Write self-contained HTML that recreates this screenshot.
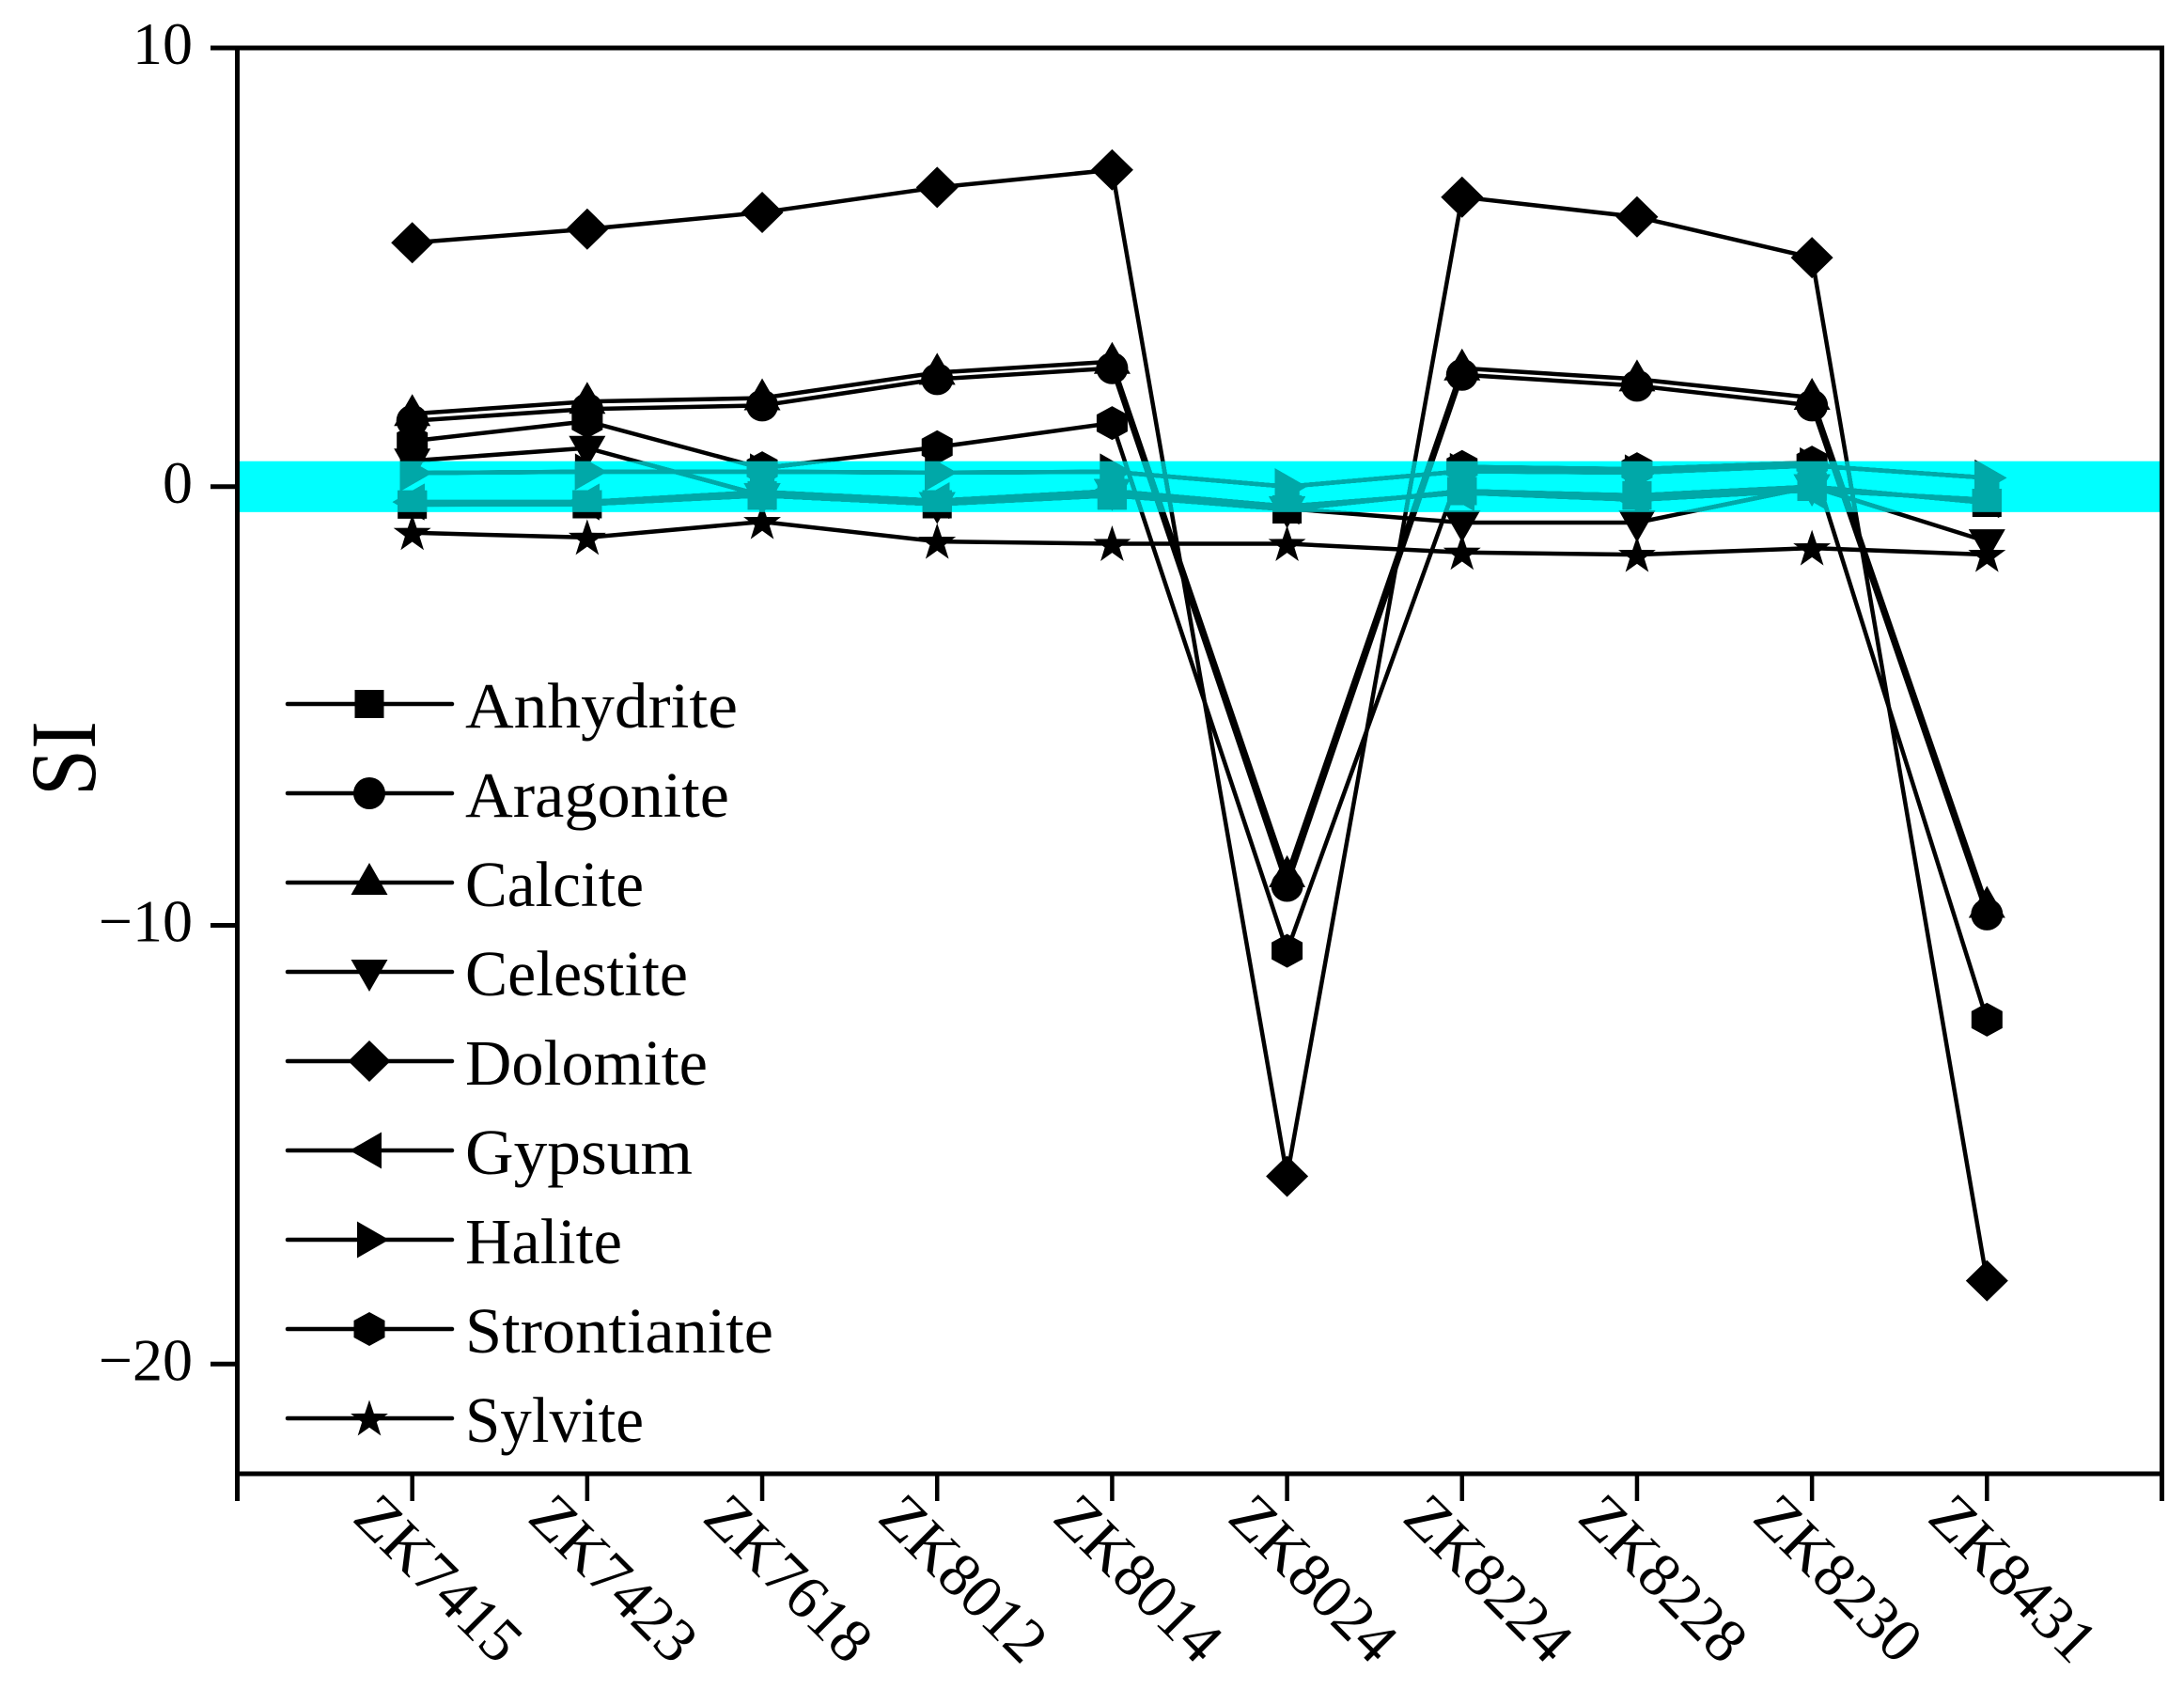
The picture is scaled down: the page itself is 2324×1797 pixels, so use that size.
<!DOCTYPE html>
<html lang="en">
<head>
<meta charset="utf-8">
<title>Saturation index chart</title>
<style>
html,body{margin:0;padding:0;background:#fff;}
svg{display:block;}
text{font-family:"Liberation Serif",serif;fill:#000;}
</style>
</head>
<body>
<svg id="chart" xmlns="http://www.w3.org/2000/svg" width="2324" height="1797" viewBox="0 0 2324 1797"></svg>
<script>
const categories = ["ZK7415","ZK7423","ZK7618","ZK8012","ZK8014","ZK8024","ZK8224","ZK8228","ZK8230","ZK8431"];
const yTickValues = [10, 0, -10, -20];
const yTickLabels = ["10", "0", "\u221210", "\u221220"];
const bandValues = [-0.58, 0.58];
const seriesNames = ["Anhydrite","Aragonite","Calcite","Celestite","Dolomite","Gypsum","Halite","Strontianite","Sylvite"];
const anhydrite = [-0.41,-0.4,-0.2,-0.4,-0.2,-0.52,-0.1,-0.2,0,-0.37];
const aragonite = [1.5,1.77,1.85,2.45,2.7,-9.1,2.55,2.3,1.85,-9.75];
const calcite = [1.66,1.94,2.02,2.6,2.85,-8.85,2.7,2.45,2.03,-9.55];
const celestite = [0.59,0.88,-0.2,-0.4,-0.1,-0.5,-0.82,-0.82,0,-1.25];
const dolomite = [5.56,5.87,6.25,6.82,7.22,-15.72,6.6,6.15,5.22,-18.1];
const gypsum = [-0.35,-0.35,-0.12,-0.32,-0.1,-0.45,-0.14,-0.3,-0.08,-0.3];
const halite = [0.31,0.34,0.34,0.32,0.34,0,0.35,0.32,0.48,0.2];
const strontianite = [1.04,1.49,0.42,0.9,1.45,-10.58,0.45,0.4,0.55,-12.15];
const sylvite = [-1.05,-1.16,-0.8,-1.25,-1.3,-1.3,-1.5,-1.55,-1.4,-1.55];
const seriesValues = [anhydrite,aragonite,calcite,celestite,dolomite,gypsum,halite,strontianite,sylvite];
const seriesMarkers = ["square","circle","up","down","diamond","left","right","hexagon","star"];

const SVGNS = "http://www.w3.org/2000/svg";
const svg = document.getElementById("chart");
const plot = {left:252.5, right:2300.5, top:51, bottom:1568};
const legendLabelLengths = [290, 281, 190, 237, 258, 242, 167, 328, 190];
const xMin = 0, xMax = 11, yMin = -22.5, yMax = 10;
function xScale(i){ return plot.left + (i + 1 - xMin) / (xMax - xMin) * (plot.right - plot.left); }
function yScale(v){ return plot.bottom - (v - yMin) / (yMax - yMin) * (plot.bottom - plot.top); }

function make(tag, attrs, parent){
  const el = document.createElementNS(SVGNS, tag);
  for (const k in attrs) el.setAttribute(k, attrs[k]);
  (parent || svg).appendChild(el);
  return el;
}
function markerPoints(type, cx, cy){
  let pts;
  if (type === "square") pts = [[-15.5,-15],[15.5,-15],[15.5,15],[-15.5,15]];
  else if (type === "up") pts = [[0,-21],[19.5,13],[-19.5,13]];
  else if (type === "down") pts = [[-19.5,-13],[19.5,-13],[0,21]];
  else if (type === "left") pts = [[-21,0],[13,-19.5],[13,19.5]];
  else if (type === "right") pts = [[21,0],[-13,-19.5],[-13,19.5]];
  else if (type === "diamond") pts = [[0,-22],[22.5,0],[0,22],[-22.5,0]];
  else if (type === "hexagon") pts = [[0,-18],[16.5,-9],[16.5,9],[0,18],[-16.5,9],[-16.5,-9]];
  else if (type === "star") {
    pts = [];
    for (let k = 0; k < 10; k++) {
      const r = k % 2 === 0 ? 21 : 8.2;
      const a = -Math.PI / 2 + k * Math.PI / 5;
      pts.push([r * Math.cos(a), r * Math.sin(a) + 1.5]);
    }
  }
  return pts.map(p => (cx + p[0]).toFixed(2) + "," + (cy + p[1]).toFixed(2)).join(" ");
}
function drawMarker(type, cx, cy, parent){
  if (type === "circle") return make("circle", {cx:cx, cy:cy, r:17, fill:"#000"}, parent);
  return make("polygon", {points:markerPoints(type, cx, cy), fill:"#000"}, parent);
}

const bg = make("rect", {x:0, y:0, width:2324, height:1797, fill:"#fff"});



/* series */
seriesNames.forEach(function(name, s){
  const g = make("g", {});
  
  
  const line = make("polyline", {
    points: seriesValues[s].map((v, i) => xScale(i).toFixed(2) + "," + yScale(v).toFixed(2)).join(" "),
    fill: "none", stroke: "#000", "stroke-width": 4.5, "stroke-linejoin": "miter"
  }, g);
  
  
  seriesValues[s].forEach(function(v, i){
    const m = drawMarker(seriesMarkers[s], xScale(i), yScale(v), g);
    
    
  });
});

/* equilibrium band: white becomes cyan, black becomes teal */
const bandTop = yScale(bandValues[1]);
const bandBottom = yScale(bandValues[0]);
const band = make("rect", {x:plot.left + 2.5, y:bandTop, width:plot.right - plot.left - 5, height:bandBottom - bandTop, fill:"#00ffff", style:"mix-blend-mode:multiply"});


const bandTint = make("rect", {x:plot.left + 2.5, y:bandTop, width:plot.right - plot.left - 5, height:bandBottom - bandTop, fill:"#00a8a8", style:"mix-blend-mode:lighten"});



/* axes frame */
const frame = make("rect", {x:plot.left, y:plot.top, width:plot.right - plot.left, height:plot.bottom - plot.top, fill:"none", stroke:"#000", "stroke-width":5});



/* y ticks */
yTickValues.forEach(function(v, i){
  const y = yScale(v);
  const tick = make("line", {x1:224, x2:plot.left, y1:y, y2:y, stroke:"#000", "stroke-width":5});
  
  
  const label = make("text", {x:205, y:y + 17, "text-anchor":"end", "font-size":64});
  label.textContent = yTickLabels[i];
  
  
});

/* x ticks */
[plot.left, plot.right].forEach(function(x){
  const tick = make("line", {x1:x, x2:x, y1:plot.bottom, y2:1597, stroke:"#000", "stroke-width":5});
  
  
});
categories.forEach(function(c, i){
  const x = xScale(i);
  const tick = make("line", {x1:x, x2:x, y1:plot.bottom, y2:1597, stroke:"#000", "stroke-width":4.5});
  
  
  const tx = x - 65, ty = 1617;
  const label = make("text", {x:tx, y:ty, "font-size":66, transform:"rotate(45 " + tx + " " + ty + ")"});
  label.textContent = c;
  
  
});

/* y axis title */
const yTitle = make("text", {x:0, y:0, "font-size":100, textLength:80, lengthAdjust:"spacingAndGlyphs", transform:"translate(101 847) rotate(-90)"});
yTitle.textContent = "SI";



/* legend */
seriesNames.forEach(function(name, s){
  const ly = 749 + s * 95;
  const g = make("g", {});
  
  
  const sw = make("line", {x1:306, x2:481, y1:ly, y2:ly, stroke:"#000", "stroke-width":4.5, "stroke-linecap":"round"}, g);
  
  
  const m = drawMarker(seriesMarkers[s], 393, ly, g);
  
  
  const t = make("text", {x:495, y:ly + 25, "font-size":69, textLength:legendLabelLengths[s], lengthAdjust:"spacingAndGlyphs"}, g);
  t.textContent = name;
  
  
});
</script>
</body>
</html>
